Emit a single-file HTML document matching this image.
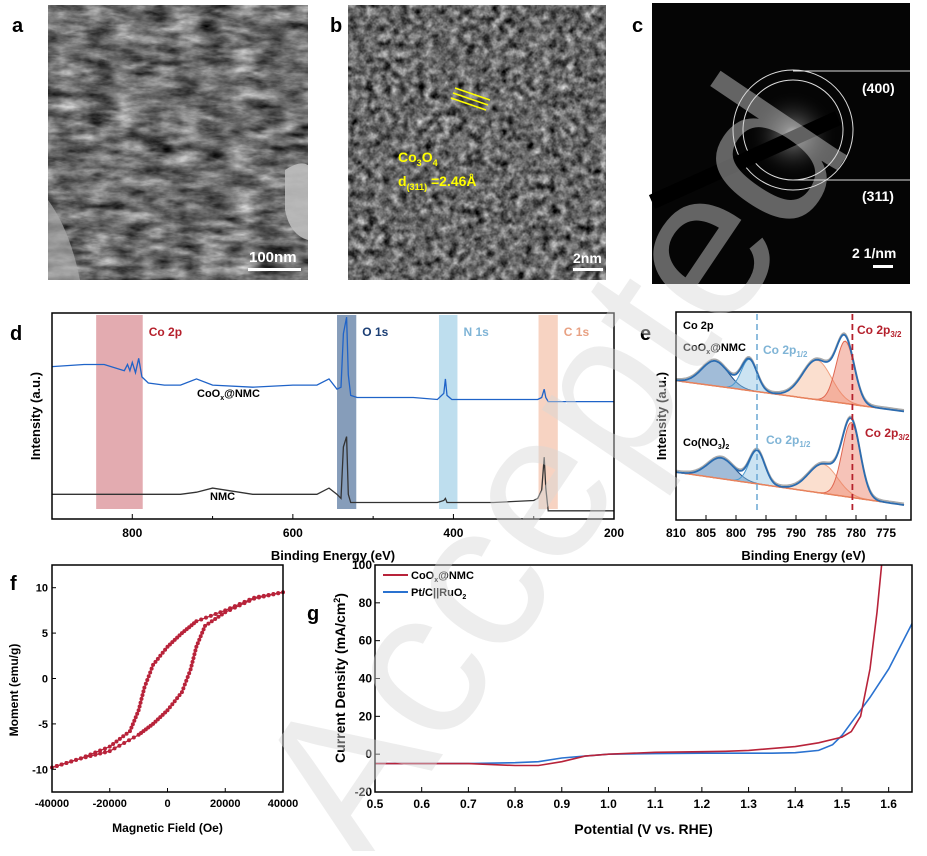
<!DOCTYPE html>
<html><head><meta charset="utf-8"><style>
body{margin:0;background:#fff}
svg text{font-family:"Liberation Sans",Arial,sans-serif}
</style></head><body>
<svg id="fig" width="927" height="851" viewBox="0 0 927 851" xmlns="http://www.w3.org/2000/svg">
<defs>
<filter id="noiseA" x="0" y="0" width="100%" height="100%" color-interpolation-filters="sRGB"><feTurbulence type="fractalNoise" baseFrequency="0.035 0.09" numOctaves="4" seed="3"/><feColorMatrix type="matrix" values="0.55 0.55 0.55 0 -0.4 0.55 0.55 0.55 0 -0.4 0.55 0.55 0.55 0 -0.4 0 0 0 0 1"/></filter>
<filter id="noiseB" x="0" y="0" width="100%" height="100%" color-interpolation-filters="sRGB"><feTurbulence type="fractalNoise" baseFrequency="0.12" numOctaves="3" seed="7"/><feColorMatrix type="matrix" values="0.6 0.6 0.6 0 -0.5 0.6 0.6 0.6 0 -0.5 0.6 0.6 0.6 0 -0.5 0 0 0 0 1"/></filter>
<radialGradient id="glow"><stop offset="0" stop-color="#fff"/><stop offset="0.2" stop-color="#777"/><stop offset="1" stop-color="#000" stop-opacity="0"/></radialGradient>
</defs>
<!-- panel a -->
<g>
<rect x="48" y="5" width="260" height="275" fill="#666" filter="url(#noiseA)"/>
<path d="M285,170 Q300,160 308,165 L308,240 Q290,235 285,210 Z" fill="#bcbcbc" opacity="0.9"/>
<path d="M48,200 Q70,230 80,280 L48,280 Z" fill="#aaa" opacity="0.7"/>
<rect x="248" y="268" width="53" height="3" fill="#fff"/>
<text x="249" y="262" font-size="15" font-weight="bold" fill="#fff">100nm</text>
</g>
<text x="12" y="32" font-size="20" font-weight="bold">a</text>
<!-- panel b -->
<g>
<rect x="348" y="5" width="258" height="275" fill="#555" filter="url(#noiseB)"/>
<line x1="455" y1="88" x2="490" y2="100" stroke="#ff0" stroke-width="1.5"/>
<line x1="453" y1="93" x2="488" y2="105" stroke="#ff0" stroke-width="1.5"/>
<line x1="451" y1="98" x2="486" y2="110" stroke="#ff0" stroke-width="1.5"/>
<text x="398" y="162" font-size="14" font-weight="bold" fill="#ff0">Co<tspan font-size="9" dy="4">3</tspan><tspan dy="-4">O</tspan><tspan font-size="9" dy="4">4</tspan></text>
<text x="398" y="186" font-size="14" font-weight="bold" fill="#ff0">d<tspan font-size="9" dy="4">(311)</tspan><tspan dy="-4"> =2.46Å</tspan></text>
<rect x="573" y="268" width="30" height="3" fill="#fff"/>
<text x="573" y="263" font-size="14" font-weight="bold" fill="#fff">2nm</text>
</g>
<text x="330" y="32" font-size="20" font-weight="bold">b</text>
<!-- panel c -->
<g>
<rect x="652" y="3" width="258" height="281" fill="#050505"/>
<circle cx="793" cy="135" r="45" fill="url(#glow)" opacity="0.7"/>
<circle cx="793" cy="130" r="60" fill="none" stroke="#ddd" stroke-width="1"/>
<circle cx="793" cy="130" r="50" fill="none" stroke="#ddd" stroke-width="1"/>
<line x1="793" y1="71" x2="910" y2="71" stroke="#ddd"/>
<line x1="793" y1="180" x2="910" y2="180" stroke="#ddd"/>
<line x1="652" y1="202" x2="838" y2="118" stroke="#000" stroke-width="15"/>
<text x="862" y="93" font-size="14" font-weight="bold" fill="#fff">(400)</text>
<text x="862" y="201" font-size="14" font-weight="bold" fill="#fff">(311)</text>
<rect x="873" y="265" width="20" height="3" fill="#fff"/>
<text x="852" y="258" font-size="14" font-weight="bold" fill="#fff">2 1/nm</text>
</g>
<text x="632" y="32" font-size="20" font-weight="bold">c</text>
<g id="charts"></g>
<text x="0" y="0" font-size="210" fill="#d8d8d8" opacity="0.45" transform="translate(365,870) rotate(-56)">Accepted</text>
</svg>
<script>
// ---------- data ----------
// panel d (XPS survey) — binding energy (eV) and intensity (a.u., 0-100)
const dEnergy   = [900,860,835,810,806,803,800,796,792,788,780,760,740,720,700,650,600,570,555,545,540,537,533,531,528,520,500,450,420,412,410,408,402,380,350,300,295,290,287,285,282,275,250,200];
const dCoOx     = [74,75,75,72,75,72,76,71,78,69,66,65,65,68,65,64,65,65,68,63,64,90,98,70,60,59,59,59,58,61,68,60,58,58,58,58,58,59,63,59,57,57,57,57];
const dNMC      = [12,12,12,12,12,12,12,12,12,12,12,12,12,13,15,12,12,12,15,12,10,35,40,12,8,8,8,8,8,9,10,8,8,8,8,9,10,14,30,15,4,4,4,4];
const dBands    = [[845,787,'#d98f95','Co 2p','#b5202c'],[545,521,'#5d7ca3','O 1s','#1c3f75'],[418,395,'#a8d3e8','N 1s','#7fb4d6'],[294,270,'#f4c4ad','C 1s','#e8a183']];
const dTicks    = [800,600,400,200];
// panel e (Co 2p fit) — peak centres, heights, widths
const ePeakPos   = [803.5,797.8,786.5,781.8];
const eTopHeight = [12,15,19,30];
const eBotPos    = [802.5,796.5,785.5,780.8];
const eBotHeight = [10,16,14,36];
const eWidth     = [2.2,1.3,2.4,1.5];
const eTopBase   = [67,52];
const eBotBase   = [23,7];
const eTicks     = [810,805,800,795,790,785,780,775];
// panel f (M-H loop)
const fDownH = [40000,30000,20000,10000,5000,0,-5000,-8000,-10000,-13000,-20000,-30000,-40000];
const fDownM = [9.5,8.9,7.5,6.3,5,3.5,1.5,-1,-3.5,-5.8,-7.5,-8.8,-9.8];
const fUpH   = [-40000,-30000,-20000,-10000,-5000,0,5000,8000,10000,13000,20000,30000,40000];
const fUpM   = [-9.8,-8.8,-8,-6.2,-5,-3.5,-1.5,1,3.5,5.8,7.3,8.8,9.5];
const fXTicks = [-40000,-20000,0,20000,40000];
const fYTicks = [10,5,0,-5,-10];
// panel g (LSV)
const gRedV = [0.5,0.6,0.7,0.75,0.8,0.85,0.9,0.95,1.0,1.1,1.2,1.25,1.3,1.4,1.45,1.5,1.52,1.54,1.56,1.575,1.585];
const gRedJ = [-5,-5,-5,-5.5,-6,-6,-4,-1,0,1,1.3,1.5,2,4,6,9,12,20,45,75,100];
const gBluV = [0.5,0.6,0.7,0.8,0.85,0.9,0.95,1.0,1.1,1.2,1.3,1.35,1.4,1.45,1.48,1.5,1.53,1.56,1.6,1.65];
const gBluJ = [-5,-5,-5,-4.5,-4,-2,-1,0,0.3,0.5,0.5,0.5,0.8,2,5,10,20,30,45,69];
const gXTicks = [0.5,0.6,0.7,0.8,0.9,1.0,1.1,1.2,1.3,1.4,1.5,1.6];
const gYTicks = [100,80,60,40,20,0,-20];

const NS='http://www.w3.org/2000/svg';
const root=document.getElementById('charts');
function mk(tag,attrs,parent,text){const e=document.createElementNS(NS,tag);for(const k in attrs)e.setAttribute(k,attrs[k]);if(text!==undefined)e.textContent=text;(parent||root).appendChild(e);return e;}
function lin(d0,d1,r0,r1){return v=>r0+(v-d0)*(r1-r0)/(d1-d0);}
function pathOf(xs,ys,sx,sy){return xs.map((x,i)=>(i?'L':'M')+sx(x).toFixed(1)+','+sy(ys[i]).toFixed(1)).join('');}

// ---------- panel d ----------
{
const L=52,R=614,T=313,B=519;
const sx=lin(900,200,L,R), sy=lin(0,100,B,T);
const g=mk('g',{});


dBands.forEach(b=>{
 const r=mk('rect',{x:sx(b[0]),y:T+2,width:sx(b[1])-sx(b[0]),height:B-T-12,fill:b[2],opacity:0.75},g);
 
 
 const t=mk('text',{x:sx(b[1])+6,y:336,'font-size':12,'font-weight':'bold',fill:b[4]},g,b[3]);
 
 
});
const p1=mk('path',{d:pathOf(dEnergy,dCoOx,sx,sy),fill:'none',stroke:'#1f63c8','stroke-width':1.3},g);


const p2=mk('path',{d:pathOf(dEnergy,dNMC,sx,sy),fill:'none',stroke:'#333','stroke-width':1.3},g);


mk('text',{x:197,y:397,'font-size':11,'font-weight':'bold'},g).innerHTML='CoO<tspan font-size="7" dy="3">x</tspan><tspan dy="-3">@NMC</tspan>';
mk('text',{x:210,y:500,'font-size':11,'font-weight':'bold'},g,'NMC');
const fr=mk('rect',{x:L,y:T,width:R-L,height:B-T,fill:'none',stroke:'#000','stroke-width':1.5},g);


dTicks.forEach(v=>{mk('line',{x1:sx(v),x2:sx(v),y1:B,y2:B-5,stroke:'#000'},g);
 const t=mk('text',{x:sx(v),y:537,'font-size':12,'font-weight':'bold','text-anchor':'middle'},g,v);
 
 });
[700,500,300].forEach(v=>mk('line',{x1:sx(v),x2:sx(v),y1:B,y2:B-3,stroke:'#000'},g));
const xt=mk('text',{x:(L+R)/2,y:560,'font-size':13,'font-weight':'bold','text-anchor':'middle'},g,'Binding Energy (eV)');


const yt=mk('text',{x:0,y:0,'font-size':13,'font-weight':'bold','text-anchor':'middle',transform:'translate(40,416) rotate(-90)'},g,'Intensity (a.u.)');


mk('text',{x:10,y:340,'font-size':20,'font-weight':'bold'},g,'d');
}

// ---------- panel e ----------
{
const L=676,R=911,T=312,B=520;
const sx=lin(810,775,676,886), sy=lin(0,100,B,T);
const g=mk('g',{});


const fills=['#2f6aa8','#8cc0e3','#f6b795','#ec7b62'];
const lines=['#1d4f8a','#4a9ad0','#f0a07e','#e06650'];
const E=[];for(let e=810;e>=771.8;e-=0.25)E.push(e);
function spectrum(pos,h,base,tag){
 const bl=e=>base[0]+(810-e)*(base[1]-base[0])/38.5;
 const gau=(e,i)=>h[i]*Math.exp(-0.5*Math.pow((e-pos[i])/eWidth[i],2));
 pos.forEach((p,i)=>{
  const top=E.map(e=>bl(e)+gau(e,i));
  let d=pathOf(E,top,sx,sy);
  const rev=E.slice().reverse();
  d+=rev.map(e=>'L'+sx(e).toFixed(1)+','+sy(bl(e)).toFixed(1)).join('')+'Z';
  const a=mk('path',{d:d,fill:fills[i],'fill-opacity':0.45,stroke:lines[i],'stroke-width':1},g);
  
  
 });
 mk('path',{d:pathOf(E,E.map(e=>bl(e)),sx,sy),fill:'none',stroke:'#e8825c','stroke-width':1.5},g);
 const env=E.map(e=>bl(e)+pos.reduce((s,p,i)=>s+gau(e,i),0));
 mk('path',{d:pathOf(E,env.map(v=>v+0.8),sx,sy),fill:'none',stroke:'#aaa','stroke-width':1.5},g);
 const en=mk('path',{d:pathOf(E,env,sx,sy),fill:'none',stroke:'#2b6cb0','stroke-width':1.8},g);
 
 
}
spectrum(ePeakPos,eTopHeight,eTopBase,'coox-nmc');
spectrum(eBotPos,eBotHeight,eBotBase,'co-no3-2');
mk('line',{x1:sx(796.5),x2:sx(796.5),y1:T+2,y2:B-8,stroke:'#6aa7d4','stroke-width':1.5,'stroke-dasharray':'6,4'},g);
mk('line',{x1:sx(780.6),x2:sx(780.6),y1:T+2,y2:B-8,stroke:'#b5202c','stroke-width':1.8,'stroke-dasharray':'6,4'},g);
mk('text',{x:683,y:329,'font-size':11,'font-weight':'bold'},g,'Co 2p');
mk('text',{x:683,y:351,'font-size':11,'font-weight':'bold'},g).innerHTML='CoO<tspan font-size="7" dy="3">x</tspan><tspan dy="-3">@NMC</tspan>';
mk('text',{x:763,y:354,'font-size':12,'font-weight':'bold',fill:'#7fb4d6'},g).innerHTML='Co 2p<tspan font-size="8" dy="3">1/2</tspan>';
mk('text',{x:857,y:334,'font-size':12,'font-weight':'bold',fill:'#b5202c'},g).innerHTML='Co 2p<tspan font-size="8" dy="3">3/2</tspan>';
mk('text',{x:683,y:446,'font-size':11,'font-weight':'bold'},g).innerHTML='Co(NO<tspan font-size="7" dy="3">3</tspan><tspan dy="-3">)</tspan><tspan font-size="7" dy="3">2</tspan>';
mk('text',{x:766,y:444,'font-size':12,'font-weight':'bold',fill:'#7fb4d6'},g).innerHTML='Co 2p<tspan font-size="8" dy="3">1/2</tspan>';
mk('text',{x:865,y:437,'font-size':12,'font-weight':'bold',fill:'#b5202c'},g).innerHTML='Co 2p<tspan font-size="8" dy="3">3/2</tspan>';
const fr=mk('rect',{x:L,y:T,width:R-L,height:B-T,fill:'none',stroke:'#000','stroke-width':1.5},g);


eTicks.forEach(v=>{mk('line',{x1:sx(v),x2:sx(v),y1:B,y2:B-5,stroke:'#000'},g);
 const t=mk('text',{x:sx(v),y:537,'font-size':12,'font-weight':'bold','text-anchor':'middle'},g,v);
 
 });
const xt=mk('text',{x:(L+R)/2+10,y:560,'font-size':13,'font-weight':'bold','text-anchor':'middle'},g,'Binding Energy (eV)');


const yt=mk('text',{x:0,y:0,'font-size':13,'font-weight':'bold','text-anchor':'middle',transform:'translate(666,416) rotate(-90)'},g,'Intensity (a.u.)');


mk('text',{x:640,y:340,'font-size':20,'font-weight':'bold'},g,'e');
}

// ---------- panel f ----------
{
const L=52,R=283,T=565,B=792;
const sx=lin(-40000,40000,L,R), sy=lin(-12.5,12.5,B,T);
const g=mk('g',{});


[[fDownH,fDownM,'branch-down'],[fUpH,fUpM,'branch-up']].forEach(s=>{
 const p=mk('path',{d:pathOf(s[0],s[1],sx,sy),fill:'none',stroke:'#b8233a','stroke-width':1.3},g);
 
 
 for(let i=0;i<s[0].length-1;i++){for(let k=0;k<6;k++){const t=k/6;
  const c=mk('circle',{cx:sx(s[0][i]+(s[0][i+1]-s[0][i])*t),cy:sy(s[1][i]+(s[1][i+1]-s[1][i])*t),r:2,fill:'#b8233a'},g);
  
  }}
});
const fr=mk('rect',{x:L,y:T,width:R-L,height:B-T,fill:'none',stroke:'#000','stroke-width':1.5},g);


fXTicks.forEach(v=>{mk('line',{x1:sx(v),x2:sx(v),y1:B,y2:B-4,stroke:'#000'},g);
 const t=mk('text',{x:sx(v),y:807,'font-size':11,'font-weight':'bold','text-anchor':'middle'},g,v);
 
 });
fYTicks.forEach(v=>{mk('line',{x1:L,x2:L+4,y1:sy(v),y2:sy(v),stroke:'#000'},g);
 const t=mk('text',{x:L-4,y:sy(v)+4,'font-size':11,'font-weight':'bold','text-anchor':'end'},g,v);
 
 });
const xt=mk('text',{x:(L+R)/2,y:832,'font-size':12,'font-weight':'bold','text-anchor':'middle'},g,'Magnetic Field (Oe)');


const yt=mk('text',{x:0,y:0,'font-size':12,'font-weight':'bold','text-anchor':'middle',transform:'translate(18,690) rotate(-90)'},g,'Moment (emu/g)');


mk('text',{x:10,y:590,'font-size':20,'font-weight':'bold'},g,'f');
}

// ---------- panel g ----------
{
const L=375,R=912,T=565,B=792;
const sx=lin(0.5,1.65,L,R), sy=lin(-20,100,B,T);
const g=mk('g',{});


const cp=mk('clipPath',{id:'gclip'},g);mk('rect',{x:L,y:T,width:R-L,height:B-T},cp);
const pb=mk('path',{d:pathOf(gBluV,gBluJ,sx,sy),fill:'none',stroke:'#2a72d0','stroke-width':1.6,'clip-path':'url(#gclip)'},g);


const pr=mk('path',{d:pathOf(gRedV,gRedJ,sx,sy),fill:'none',stroke:'#b8233a','stroke-width':1.6,'clip-path':'url(#gclip)'},g);


const fr=mk('rect',{x:L,y:T,width:R-L,height:B-T,fill:'none',stroke:'#000','stroke-width':1.5},g);


gXTicks.forEach(v=>{mk('line',{x1:sx(v),x2:sx(v),y1:B,y2:B-5,stroke:'#000'},g);
 const t=mk('text',{x:sx(v),y:808,'font-size':12,'font-weight':'bold','text-anchor':'middle'},g,v.toFixed(1));
 
 });
gYTicks.forEach(v=>{mk('line',{x1:L,x2:L+5,y1:sy(v),y2:sy(v),stroke:'#000'},g);
 const t=mk('text',{x:L-3,y:sy(v)+4,'font-size':12,'font-weight':'bold','text-anchor':'end'},g,v);
 
 });
const le=mk('g',{},g);


mk('line',{x1:383,x2:408,y1:575,y2:575,stroke:'#b8233a','stroke-width':2},le);
mk('text',{x:411,y:579,'font-size':11,'font-weight':'bold'},le).innerHTML='CoO<tspan font-size="7" dy="3">x</tspan><tspan dy="-3">@NMC</tspan>';
mk('line',{x1:383,x2:408,y1:592,y2:592,stroke:'#2a72d0','stroke-width':2},le);
mk('text',{x:411,y:596,'font-size':11,'font-weight':'bold'},le).innerHTML='Pt/C||RuO<tspan font-size="7" dy="3">2</tspan>';
const xt=mk('text',{x:(L+R)/2,y:834,'font-size':14,'font-weight':'bold','text-anchor':'middle'},g,'Potential (V vs. RHE)');


const yt=mk('text',{x:0,y:0,'font-size':14,'font-weight':'bold','text-anchor':'middle',transform:'translate(345,678) rotate(-90)'},g);
yt.innerHTML='Current Density (mA/cm<tspan font-size="9" dy="-5">2</tspan><tspan dy="5">)</tspan>';


mk('text',{x:307,y:620,'font-size':20,'font-weight':'bold'},g,'g');
}
</script>
</body></html>
